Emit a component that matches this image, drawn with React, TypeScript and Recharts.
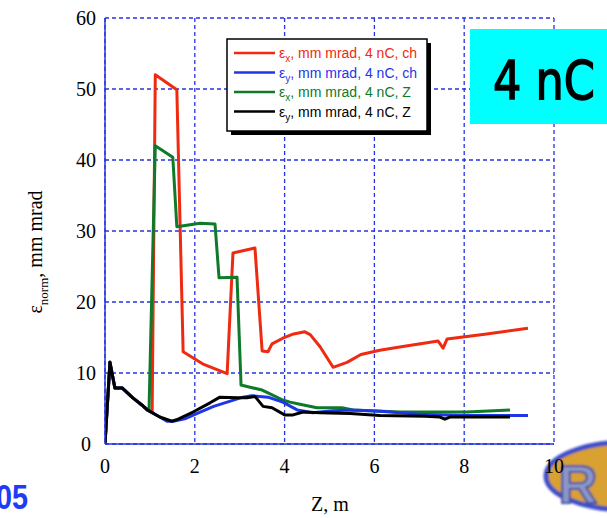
import React from 'react';
import { LineChart, Line, XAxis, YAxis, CartesianGrid } from 'recharts';

// Emittance along the beamline, 4 nC bunch (Z in m, emittance in mm mrad)
const exChZ = [0, 0.11, 0.22, 0.38, 0.62, 0.82, 0.94, 1.05, 1.12, 1.6, 1.74, 2.2, 2.72, 2.85, 3.34, 3.5, 3.63, 3.72, 3.96, 4.2, 4.45, 4.57, 4.79, 5.08, 5.39, 5.7, 6.12, 6.6, 7.42, 7.53, 7.62, 8.5, 9.42];
const exChEps = [0, 11.5, 7.9, 7.9, 6.5, 5.5, 4.8, 4.5, 52, 49.9, 13, 11.2, 9.9, 26.9, 27.6, 13.1, 13, 14.1, 14.9, 15.5, 15.8, 15.4, 13.7, 10.8, 11.5, 12.6, 13.2, 13.7, 14.5, 13.5, 14.8, 15.5, 16.3];

const eyChZ = [0, 0.11, 0.22, 0.38, 0.62, 0.82, 0.94, 1.22, 1.38, 1.52, 1.8, 2.12, 2.42, 2.72, 3.07, 3.27, 3.63, 3.96, 4.28, 4.63, 5.08, 5.5, 6.12, 7.0, 8.0, 9.42];
const eyChEps = [0, 11.5, 7.9, 7.9, 6.5, 5.5, 4.8, 3.8, 3.2, 3.2, 3.6, 4.5, 5.3, 5.9, 6.6, 6.8, 6.6, 5.9, 4.8, 4.4, 4.7, 4.8, 4.6, 4.2, 4.0, 4.0];

const exZZ = [0, 0.11, 0.22, 0.38, 0.62, 0.82, 0.98, 1.12, 1.51, 1.6, 2.12, 2.45, 2.54, 2.94, 3.03, 3.23, 3.5, 3.63, 3.96, 4.12, 4.34, 4.72, 5.28, 5.52, 6.57, 8.06, 9.02];
const exZEps = [0, 11.5, 7.9, 7.9, 6.5, 5.5, 4.7, 42, 40.4, 30.6, 31.1, 31.0, 23.4, 23.5, 8.3, 8.0, 7.6, 7.2, 6.2, 5.9, 5.6, 5.1, 5.1, 4.8, 4.5, 4.5, 4.8];

const eyZZ = [0, 0.11, 0.22, 0.38, 0.62, 0.82, 0.94, 1.22, 1.49, 1.63, 1.96, 2.34, 2.56, 2.96, 3.16, 3.34, 3.52, 3.72, 4.0, 4.19, 4.41, 4.79, 5.46, 6.12, 7.13, 7.46, 7.57, 7.68, 9.02];
const eyZEps = [0, 11.5, 7.9, 7.9, 6.5, 5.5, 4.8, 3.8, 3.2, 3.5, 4.5, 5.8, 6.6, 6.5, 6.5, 6.7, 5.3, 5.1, 4.1, 4.1, 4.5, 4.4, 4.3, 4.0, 3.9, 3.8, 3.5, 3.8, 3.8];

const xTicks = [0, 2, 4, 6, 8, 10];
const yTicks = [0, 10, 20, 30, 40, 50, 60];

const RED = '#ee2a10';
const BLUE = '#1c36e8';
const GREEN = '#0e7a2a';
const BLACK = '#000000';
const GRID = '#2435e0';

const toPoints = (z: number[], e: number[]) => z.map((v, i) => ({ z: v, eps: e[i] }));

const series = [
  { key: 'exCh', sub: 'x', tag: 'ch', color: RED, data: toPoints(exChZ, exChEps) },
  { key: 'exZ', sub: 'x', tag: 'Z', color: GREEN, data: toPoints(exZZ, exZEps) },
  { key: 'eyCh', sub: 'y', tag: 'ch', color: BLUE, data: toPoints(eyChZ, eyChEps) },
  { key: 'eyZ', sub: 'y', tag: 'Z', color: BLACK, data: toPoints(eyZZ, eyZEps) },
];

const legendRows = [series[0], series[2], series[1], series[3]];

const SERIF = '"Liberation Serif", "Times New Roman", serif';
const SANS = '"Liberation Sans", Arial, sans-serif';

const YTick = (props: any) => {
  const { y, payload } = props;
  return (
    <text x={86} y={y + 7} textAnchor="middle" fontFamily={SERIF} fontSize={20} fill="#000">
      {payload.value}
    </text>
  );
};

const XTick = (props: any) => {
  const { x, payload } = props;
  return (
    <text x={x} y={473} textAnchor="middle" fontFamily={SERIF} fontSize={20} fill="#000">
      {payload.value}
    </text>
  );
};

export default function App() {
  return (
    <div style={{ position: 'absolute', left: 0, top: 0, width: 607, height: 518, background: '#fff', overflow: 'hidden' }}>
      {/* logo sitting behind the chart */}
      <svg width={607} height={518} style={{ position: 'absolute', left: 0, top: 0 }}>
        <defs>
          <filter id="soft" x="-20%" y="-20%" width="140%" height="140%">
            <feGaussianBlur stdDeviation="1.2" />
          </filter>
        </defs>
        <g filter="url(#soft)">
          <ellipse cx={628} cy={476} rx={82} ry={34} fill="#d9a030" stroke="#3f4fc8" strokeWidth={5} />
          <text x={578} y={503} textAnchor="middle" fontFamily={SANS} fontWeight="bold" fontSize={54} fill="#8c96c8" stroke="#3f4fa0" strokeWidth={2}>
            R
          </text>
        </g>
      </svg>

      <div style={{ position: 'absolute', left: 0, top: 0 }}>
        <LineChart width={607} height={518} margin={{ top: 18, right: 53, bottom: 44, left: 0 }}>
          <CartesianGrid stroke={GRID} strokeWidth={1.3} strokeDasharray="4 3" />
          <XAxis
            xAxisId="frameTop"
            orientation="top"
            type="number"
            dataKey="z"
            domain={[0, 10]}
            ticks={xTicks}
            tick={false}
            tickLine={false}
            height={0}
            axisLine={{ stroke: GRID, strokeWidth: 1.5 }}
          />
          <YAxis
            yAxisId="frameRight"
            orientation="right"
            type="number"
            domain={[0, 60]}
            ticks={yTicks}
            tick={false}
            tickLine={false}
            width={0}
            axisLine={{ stroke: GRID, strokeWidth: 1.5 }}
          />
          <XAxis
            type="number"
            dataKey="z"
            domain={[0, 10]}
            ticks={xTicks}
            tick={<XTick />}
            tickLine={false}
            height={30}
            axisLine={{ stroke: GRID, strokeWidth: 1.5 }}
            allowDataOverflow
          />
          <YAxis
            type="number"
            domain={[0, 60]}
            ticks={yTicks}
            tick={<YTick />}
            tickLine={false}
            width={105}
            axisLine={{ stroke: GRID, strokeWidth: 1.5 }}
            allowDataOverflow
          />
          {series.map((s) => (
            <Line
              key={s.key}
              data={s.data}
              dataKey="eps"
              type="linear"
              stroke={s.color}
              strokeWidth={3}
              dot={false}
              activeDot={false}
              isAnimationActive={false}
              strokeLinejoin="round"
            />
          ))}
        </LineChart>
      </div>

      {/* annotations on top of the chart */}
      <svg width={607} height={518} style={{ position: 'absolute', left: 0, top: 0, pointerEvents: 'none' }}>
        {/* legend box with drop shadow */}
        <rect x={231} y={43} width={200} height={92} fill="#000" />
        <rect x={227} y={39} width={200} height={92} fill="#fff" stroke="#000" strokeWidth={1.5} />
        {legendRows.map((s, i) => {
          const ly = 53 + i * 19.5;
          return (
            <g key={s.key}>
              <line x1={234} x2={275} y1={ly} y2={ly} stroke={s.color} strokeWidth={2.5} />
              <text x={279} y={ly + 5} fontFamily={SANS} fontSize={14} fill={s.color}>
                ε
                <tspan fontSize={10} dy={4}>{s.sub}</tspan>
                <tspan dy={-4}>{`, mm mrad, 4 nC, ${s.tag}`}</tspan>
              </text>
            </g>
          );
        })}

        {/* charge tag */}
        <rect x={470} y={29} width={137} height={95} fill="#00ffff" />
        <text x={493} y={99} fontFamily='"DejaVu Sans", sans-serif' fontSize={54} fill="#000" stroke="#000" strokeWidth={1.5} textLength={102} lengthAdjust="spacingAndGlyphs">
          4 nC
        </text>

        {/* axis titles */}
        <text x={330} y={511} textAnchor="middle" fontFamily={SERIF} fontSize={20} fill="#000">
          Z, m
        </text>
        <text transform="translate(42,252) rotate(-90)" textAnchor="middle" fontFamily={SERIF} fontSize={20} fill="#000">
          ε
          <tspan fontSize={13} dy={6}>norm</tspan>
          <tspan dy={-6}>, mm mrad</tspan>
        </text>

        {/* page number fragment */}
        <text x={-4} y={509} fontFamily={SANS} fontWeight="bold" fontSize={35} fill="#1f3cf5" textLength={32} lengthAdjust="spacingAndGlyphs">
          05
        </text>
      </svg>
    </div>
  );
}
